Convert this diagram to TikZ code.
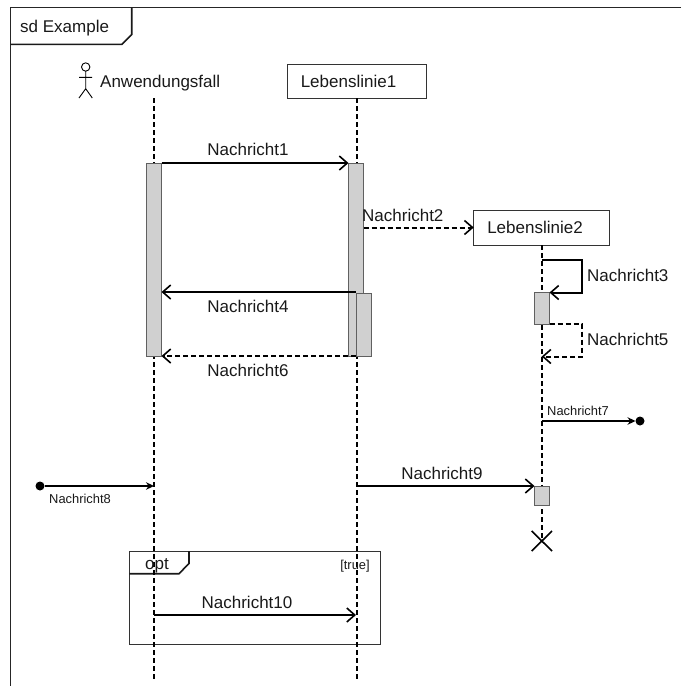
\documentclass[tikz,border=0pt]{standalone}
\usepackage{fontspec}
\setmainfont{Liberation Sans}
\usetikzlibrary{arrows.meta}
\definecolor{actfill}{HTML}{D0D0D0}
\definecolor{edge}{HTML}{606060}
\tikzset{
  lbl/.style={inner sep=0pt,text height=12.2pt,text depth=0pt,font=\fontsize{17}{20}\selectfont,text=black!90},
  smalllbl/.style={inner sep=0pt,text height=9.3pt,text depth=0pt,font=\fontsize{12.9}{15}\selectfont,text=black!90},
  box/.style={draw=black!80,line width=1pt,fill=white,inner sep=0pt,outer sep=0pt,anchor=north west,text height=12.2pt,text depth=0pt,font=\fontsize{17}{20}\selectfont,text=black!90},
  act/.style={draw=edge,line width=1pt,fill=actfill,inner sep=0pt,outer sep=0pt,anchor=north west,minimum width=15pt},
  lifeline/.style={line width=2pt,dash pattern=on 5pt off 3pt},
  msg/.style={line width=2pt,-{Straight Barb[length=8pt,width=14pt,line width=1.6pt]}},
  dmsg/.style={msg,dash pattern=on 5pt off 3pt},
  lost/.style={line width=2pt,-{Stealth[length=8pt,width=7.5pt]}},
  endpoint/.style={circle,fill=black,inner sep=0pt,outer sep=0pt,minimum size=9pt},
  framepen/.style={line width=1.2pt,draw=black!85},
  tabpen/.style={line width=1.6pt,draw=black!90},
}
\begin{document}
\begin{tikzpicture}[x=1pt,y=-1pt]
\useasboundingbox (0,0) rectangle (681,686);
% outer frame
\coordinate (frameTL) at (10.5,7.5);
\coordinate (frameTR) at (681,7.5);
\coordinate (frameBL) at (10.5,686);
\draw[framepen] (frameTR) -- (frameTL) -- (frameBL);
\draw[tabpen] (131.7,7.5) -- (131.7,34.5) -- (122,44.3) -- (10.5,44.3);
\node[lbl,anchor=west] (title) at (20,26) {sd Example};
% opt frame
\node[draw=black!80,line width=1pt,inner sep=0pt,outer sep=0pt,anchor=north west,minimum width=251pt,minimum height=93.3pt] (optframe) at (129.3,551) {};
\draw[tabpen] (189,551) -- (189,563.5) -- (179,573.7) -- (129.3,573.7);
% heads
\node[box,minimum width=139pt,minimum height=34pt] (ll1) at (287,64) {Lebenslinie1\rule{16pt}{0pt}};
\node[box,minimum width=136pt,minimum height=35pt] (ll2) at (473.7,210) {Lebenslinie2\rule{13.4pt}{0pt}};
\coordinate (actorhead) at (85.7,67);
\draw[line width=.9pt] (actorhead) circle (4.2pt);
\draw[line width=.9pt] (85.7,71.2) -- (85.7,88.7) (79,98) -- (85.7,88.7) -- (92.3,98) (79,77.3) -- (92,77.3);
\node[lbl,anchor=west] (actorname) at (100,81) {Anwendungsfall};
% lifelines
\coordinate (l0top) at (154,98);
\coordinate (l0bot) at (154,680);
\coordinate (l1bot) at (ll1.south |- l0bot);
\coordinate (x) at (541.7,541);
\draw[lifeline] (l0top) -- (l0bot);
\draw[lifeline] (ll1.south) -- (l1bot);
\draw[lifeline] (ll2.south) -- (x);
\draw[line width=1.6pt] (531.7,531) -- (552,551) (531.7,551) -- (552,531);
\node[lbl] (optlabel) at (157,563) {opt};
\node[smalllbl] (guard) at (355,565) {[true]};
% activations
\node[act,minimum height=193pt] (a0) at (146.5,163) {};
\node[act,minimum height=193pt] (a1) at (348.5,163) {};
\node[act,minimum height=63pt] (a1b) at (356,293) {};
\node[act,minimum height=31.5pt] (a2) at (534.5,292.5) {};
\node[act,minimum height=19pt] (a3) at (534.5,486) {};
% messages
\draw[msg] (a0.north east) -- (a1.north west);
\node[lbl] (m1) at (248,149) {Nachricht1};
\draw[dmsg] (a1.east |- ll2.west) -- (ll2.west);
\node[lbl,anchor=west] (m2) at (362,215) {Nachricht2};
\coordinate (m3a) at (541.7,260);
\coordinate (m3b) at (582,260);
\coordinate (m3c) at (582,292.5);
\draw[msg] (m3a) -- (m3b) -- (m3c) -- (a2.north east);
\node[lbl,anchor=west] (m3) at (587,275) {Nachricht3};
\coordinate (m4a) at (356,292);
\draw[msg] (m4a) -- (a0.east |- m4a);
\node[lbl] (m4) at (248,306) {Nachricht4};
\coordinate (m5b) at (582,324);
\coordinate (m5c) at (582,356.5);
\coordinate (m5d) at (541.7,356.5);
\draw[dmsg] (a2.south east) -- (m5b) -- (m5c) -- (m5d);
\node[lbl,anchor=west] (m5) at (587,339) {Nachricht5};
\coordinate (m6a) at (356,356);
\draw[dmsg] (m6a) -- (a0.south east);
\node[lbl] (m6) at (248,370) {Nachricht6};
\node[endpoint] (lostend) at (640,421) {};
\coordinate (m7a) at (541.7,421);
\draw[lost] (m7a) -- (lostend);
\node[smalllbl,anchor=west] (m7) at (547,411) {Nachricht7};
\node[endpoint] (foundstart) at (40,486) {};
\coordinate (m8b) at (154,486);
\draw[lost] (foundstart) -- (m8b);
\node[smalllbl,anchor=west] (m8) at (49,499) {Nachricht8};
\coordinate (m9a) at (356,486);
\draw[msg] (m9a) -- (a3.north west);
\node[lbl] (m9) at (442,473) {Nachricht9};
\coordinate (m10a) at (154,615);
\coordinate (m10b) at (356,615);
\draw[msg] (m10a) -- (m10b);
\node[lbl] (m10) at (247,602) {Nachricht10};
\end{tikzpicture}
\end{document}
